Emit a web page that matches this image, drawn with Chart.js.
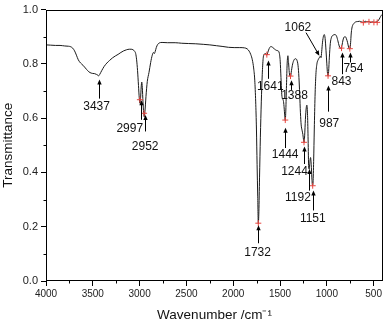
<!DOCTYPE html>
<html><head><meta charset="utf-8">
<script src="https://cdn.jsdelivr.net/npm/chart.js@4.4.1/dist/chart.umd.min.js"></script>
<style>html,body{margin:0;padding:0;background:#fff}canvas{display:block}</style>
</head><body>
<canvas id="c" width="388" height="325"></canvas>
<script>
// ---- spectrum (wavenumber in cm^-1, transmittance) ----
const wavenumber = [4000,3950,3900,3850,3800,3760,3735,3715,3695,3675,3655,3630,3605,3580,3555,3530,3505,3480,3460,3445,3437,3425,3405,3380,3350,3320,3290,3260,3230,3200,3170,3140,3110,3090,3070,3055,3042,3032,3022,3012,3004,2997,2990,2983,2977,2971,2964,2957,2950,2943,2932,2918,2900,2882,2865,2852,2843,2834,2822,2808,2790,2760,2700,2620,2550,2480,2400,2320,2250,2180,2110,2050,1990,1930,1880,1850,1830,1812,1796,1782,1770,1760,1752,1745,1738,1732,1726,1719,1710,1700,1690,1680,1668,1655,1646,1640,1630,1615,1598,1580,1560,1540,1522,1508,1498,1490,1483,1475,1467,1459,1451,1444,1438,1431,1424,1416,1409,1401,1394,1387,1378,1365,1350,1335,1320,1308,1298,1290,1282,1274,1265,1256,1249,1243,1237,1229,1220,1213,1206,1200,1194,1188,1181,1174,1167,1160,1153,1147,1141,1134,1126,1117,1106,1093,1080,1070,1062,1055,1046,1036,1027,1018,1009,1000,993,987,981,973,963,950,932,912,896,882,868,856,846,838,827,815,802,790,778,768,760,753,746,740,732,720,705,690,670,650,630,610,590,570,550,530,510,490,470,455,440,425,410,400];
const transmittance = [0.870,0.869,0.868,0.868,0.866,0.865,0.863,0.858,0.848,0.832,0.815,0.803,0.795,0.785,0.775,0.768,0.765,0.764,0.761,0.758,0.756,0.762,0.775,0.790,0.803,0.813,0.822,0.829,0.835,0.842,0.848,0.852,0.854,0.854,0.852,0.847,0.838,0.815,0.775,0.720,0.675,0.655,0.672,0.715,0.733,0.712,0.660,0.620,0.605,0.625,0.680,0.735,0.768,0.805,0.832,0.842,0.838,0.845,0.860,0.871,0.877,0.879,0.878,0.878,0.876,0.875,0.874,0.872,0.870,0.867,0.864,0.861,0.860,0.860,0.859,0.855,0.847,0.834,0.815,0.785,0.740,0.660,0.560,0.430,0.310,0.212,0.255,0.380,0.530,0.660,0.760,0.820,0.836,0.838,0.834,0.832,0.843,0.857,0.864,0.861,0.855,0.850,0.848,0.840,0.810,0.750,0.695,0.672,0.668,0.650,0.615,0.592,0.630,0.720,0.800,0.830,0.805,0.768,0.754,0.754,0.775,0.800,0.815,0.819,0.814,0.795,0.750,0.690,0.620,0.575,0.556,0.540,0.520,0.510,0.535,0.595,0.638,0.648,0.610,0.520,0.420,0.412,0.440,0.455,0.430,0.380,0.352,0.365,0.440,0.560,0.680,0.760,0.800,0.815,0.823,0.828,0.823,0.845,0.880,0.902,0.908,0.893,0.850,0.800,0.765,0.755,0.772,0.825,0.875,0.898,0.906,0.908,0.902,0.885,0.866,0.858,0.856,0.868,0.888,0.899,0.900,0.892,0.878,0.862,0.855,0.856,0.878,0.910,0.932,0.945,0.951,0.955,0.956,0.957,0.955,0.953,0.957,0.955,0.956,0.952,0.955,0.953,0.955,0.958,0.965,0.975,0.982,0.985];

// ---- axis ticks ----
const xTickValues = [4000,3500,3000,2500,2000,1500,1000,500];
const xMinorTicks = [3750,3250,2750,2250,1750,1250,750];
const yTickValues = [0.0,0.2,0.4,0.6,0.8,1.0];
const yMinorTicks = [0.1,0.3,0.5,0.7,0.9];

// ---- picked peak markers ----
const markWn = [2997,2952,1732,1641,1444,1388,1244,1151,987,843,754,610,550,497,462];
const markT  = [0.668,0.618,0.213,0.834,0.593,0.755,0.511,0.351,0.756,0.858,0.856,0.952,0.955,0.953,0.953];

// ---- peak annotations (data coordinates) ----
const noteText    = ['3437','2997','2952','1732','1641','1444','1388','1244','1192','1151','1062','987','843','754'];
const noteTextWn  = [3460,3105,2941,1740,1604,1445,1345,1345,1309,1150,1309,974,843,716];
const noteTextT   = [0.642,0.563,0.496,0.103,0.715,0.466,0.681,0.403,0.308,0.230,0.933,0.581,0.736,0.781];
const arrowTailWn = [3437,2990,2945,1730,1627,1444,1387,1240,1193,1148,1222,985,840,751];
const arrowTailT  = [0.672,0.594,0.551,0.139,0.745,0.490,0.704,0.431,0.333,0.260,0.915,0.624,0.762,0.805];
const arrowTipWn  = [3437,2990,2945,1730,1627,1444,1387,1240,1193,1148,1080,985,840,751];
const arrowTipT   = [0.742,0.666,0.612,0.205,0.812,0.565,0.740,0.496,0.413,0.333,0.830,0.720,0.842,0.842];

const FONT = '"Liberation Sans", Arial, Helvetica, sans-serif';

const notesPlugin = {
  id: 'notes',
  afterDraw(chart) {
    const {ctx, chartArea: a, scales: {x, y}} = chart;
    ctx.save();
    ctx.strokeStyle = '#000';
    ctx.fillStyle = '#000';
    ctx.lineWidth = 1;
    const L = Math.round(a.left) + 0.5, R = Math.round(a.right) - 0.5;
    const T = Math.round(a.top) + 0.5, B = Math.round(a.bottom) - 0.5;
    ctx.strokeRect(L, T, R - L, B - T);
    ctx.beginPath();
    xMinorTicks.forEach(v => { const px = Math.round(x.getPixelForValue(v)) + 0.5; ctx.moveTo(px, B); ctx.lineTo(px, B + 3); });
    yMinorTicks.forEach(v => { const py = Math.round(y.getPixelForValue(v)) + 0.5; ctx.moveTo(L, py); ctx.lineTo(L - 3, py); });
    ctx.stroke();

    function arrow(x1, y1, x2, y2) {
      const ang = Math.atan2(y2 - y1, x2 - x1), hl = 5, hw = 2.2;
      ctx.beginPath();
      ctx.moveTo(x1, y1);
      ctx.lineTo(x2 - Math.cos(ang) * hl * 0.7, y2 - Math.sin(ang) * hl * 0.7);
      ctx.stroke();
      ctx.beginPath();
      ctx.moveTo(x2, y2);
      ctx.lineTo(x2 - hl * Math.cos(ang) + hw * Math.sin(ang), y2 - hl * Math.sin(ang) - hw * Math.cos(ang));
      ctx.lineTo(x2 - hl * Math.cos(ang) - hw * Math.sin(ang), y2 - hl * Math.sin(ang) + hw * Math.cos(ang));
      ctx.closePath();
      ctx.fill();
    }
    ctx.lineWidth = 1;
    for (let i = 0; i < noteText.length; i++) {
      let x1 = x.getPixelForValue(arrowTailWn[i]), y1 = y.getPixelForValue(arrowTailT[i]);
      let x2 = x.getPixelForValue(arrowTipWn[i]), y2 = y.getPixelForValue(arrowTipT[i]);
      if (arrowTailWn[i] === arrowTipWn[i]) { x1 = x2 = Math.round(x1) + 0.5; }
      arrow(x1, y1, x2, y2);
    }
    ctx.font = '12px ' + FONT;
    ctx.fillStyle = '#111';
    ctx.textAlign = 'center';
    ctx.textBaseline = 'middle';
    for (let i = 0; i < noteText.length; i++) {
      ctx.fillText(noteText[i], x.getPixelForValue(noteTextWn[i]), y.getPixelForValue(noteTextT[i]));
    }
    ctx.restore();
  }
};

new Chart(document.getElementById('c'), {
  type: 'line',
  data: {
    datasets: [
      {
        data: wavenumber.map((w, i) => ({x: w, y: transmittance[i]})),
        borderColor: '#1a1a1a', borderWidth: 1, pointRadius: 0,
        cubicInterpolationMode: 'monotone', fill: false, order: 2
      },
      {
        data: markWn.map((w, i) => ({x: w, y: markT[i]})),
        showLine: false, pointStyle: 'cross', pointRadius: 3,
        pointBorderColor: '#e8453f', pointBorderWidth: 1, order: 1
      }
    ]
  },
  options: {
    responsive: false, animation: false, devicePixelRatio: 1,
    layout: {padding: {left: 0, right: 2, top: 6, bottom: 0}},
    plugins: {legend: {display: false}, tooltip: {enabled: false}},
    scales: {
      x: {
        type: 'linear', reverse: true, min: 400, max: 4000,
        afterBuildTicks: s => { s.ticks = xTickValues.map(v => ({value: v})); },
        afterFit: s => { s.height = 44; s.paddingLeft = 0; s.paddingRight = 0; },
        grid: {display: true, drawOnChartArea: false, drawTicks: true, tickLength: 5, tickColor: '#000', color: '#000'},
        border: {display: false},
        ticks: {font: {family: FONT, size: 10}, color: '#222', padding: 2, maxRotation: 0, autoSkip: false, callback: v => String(v)},
        title: {display: true, text: 'Wavenumber /cm\u207B\u00B9', font: {family: FONT, size: 13.5}, color: '#111', padding: {top: 0, bottom: 2}}
      },
      y: {
        type: 'linear', min: 0, max: 1,
        afterBuildTicks: s => { s.ticks = yTickValues.map(v => ({value: v})); },
        afterFit: s => { s.width = 46; },
        grid: {display: true, drawOnChartArea: false, drawTicks: true, tickLength: 5, tickColor: '#000', color: '#000'},
        border: {display: false},
        ticks: {font: {family: FONT, size: 11}, color: '#222', padding: 3, callback: v => Number(v).toFixed(1)},
        title: {display: true, text: 'Transmittance', font: {family: FONT, size: 13.5}, color: '#111', padding: {top: 0, bottom: 0}}
      }
    }
  },
  plugins: [notesPlugin]
});
</script>
</body></html>
